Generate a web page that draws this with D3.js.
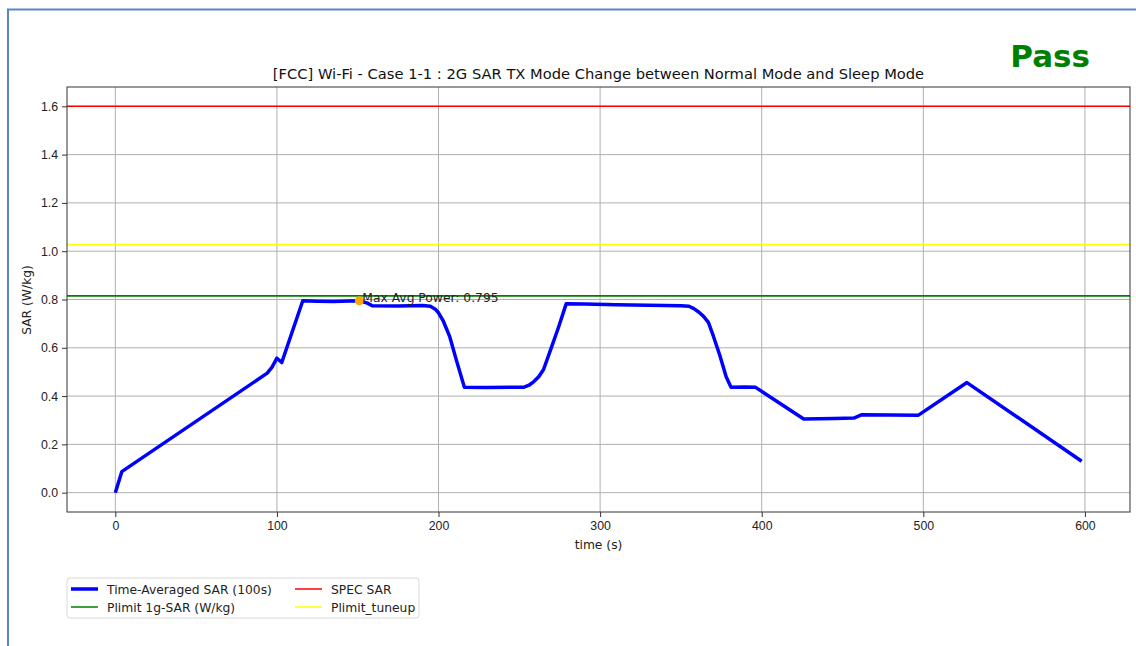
<!DOCTYPE html>
<html>
<head>
<meta charset="utf-8">
<title>SAR TX Mode Change</title>
<script src="https://d3js.org/d3.v7.min.js"></script>
<style>
    body { margin: 0; background: #fff; }
    svg { display: block; font-family: "DejaVu Sans", sans-serif; }
    .tick text { font-size: 12.3px; fill: #222; }
</style>
</head>
<body>
<svg id="chart" width="1136" height="646"></svg>
<script>
    // time-averaged SAR trace
    var times = [0, 4, 94, 97, 100, 103, 116, 125, 135, 145, 151, 156, 159, 175, 190, 195, 198, 200, 203, 207, 211, 216,
                 230, 245, 253, 256, 259, 262, 265, 269, 274, 279, 290, 310, 330, 350, 355, 358, 361, 364, 367, 370,
                 374, 378, 381, 390, 396, 426, 445, 457, 462, 480, 497, 527, 598];
    var sar = [0, 0.087, 0.495, 0.52, 0.557, 0.539, 0.795, 0.793, 0.792, 0.794, 0.795, 0.785, 0.774, 0.773, 0.775, 0.772,
               0.76, 0.745, 0.71, 0.645, 0.55, 0.437, 0.436, 0.437, 0.437, 0.445, 0.46, 0.48, 0.51, 0.585, 0.68, 0.782,
               0.781, 0.778, 0.776, 0.774, 0.772, 0.762, 0.748, 0.73, 0.705, 0.65, 0.57, 0.48, 0.437, 0.438, 0.437,
               0.305, 0.307, 0.309, 0.323, 0.322, 0.321, 0.456, 0.13];

    var specSar = 1.6;
    var plimitTuneup = 1.028;
    var plimit1g = 0.815;
    var maxPoint = { t: 151, v: 0.795 };

    var xTicks = [0, 100, 200, 300, 400, 500, 600];
    var yTicks = [0.0, 0.2, 0.4, 0.6, 0.8, 1.0, 1.2, 1.4, 1.6];

    var legendItems = [
        { label: "Time-Averaged SAR (100s)", color: "#0000ff", width: 3.5 },
        { label: "Plimit 1g-SAR (W/kg)", color: "green", width: 1.5 },
        { label: "SPEC SAR", color: "red", width: 1.5 },
        { label: "Plimit_tuneup", color: "yellow", width: 1.5 }
    ];

    var svg = d3.select("#chart");
    var pLeft = 67, pRight = 1130, pTop = 87, pBottom = 512;

    // report frame
    svg.append("path")
       .attr("d", "M8,646 L8,9.5 L1136,9.5")
       .attr("fill", "none")
       .attr("stroke", "#5b86c2")
       .attr("stroke-width", 2);

    var x = d3.scaleLinear().domain([-29.9, 627.9]).range([pLeft, pRight]);
    var y = d3.scaleLinear().domain([-0.08, 1.68]).range([pBottom, pTop]);

    // grid
    var grid = svg.append("g");
    grid.selectAll(".gx").data(xTicks).enter().append("line")
        .attr("x1", function(d) { return x(d); }).attr("x2", function(d) { return x(d); })
        .attr("y1", pTop).attr("y2", pBottom)
        .attr("stroke", "#b0b0b0").attr("stroke-width", 1);
    grid.selectAll(".gy").data(yTicks).enter().append("line")
        .attr("y1", function(d) { return y(d); }).attr("y2", function(d) { return y(d); })
        .attr("x1", pLeft).attr("x2", pRight)
        .attr("stroke", "#b0b0b0").attr("stroke-width", 1);

    // limit lines
    [[specSar, "red"], [plimitTuneup, "yellow"], [plimit1g, "green"]].forEach(function(l) {
        svg.append("line")
           .attr("x1", pLeft).attr("x2", pRight)
           .attr("y1", y(l[0])).attr("y2", y(l[0]))
           .attr("stroke", l[1]).attr("stroke-width", 1.6);
    });

    // SAR trace
    var line = d3.line()
        .x(function(d, i) { return x(times[i]); })
        .y(function(d) { return y(d); });
    svg.append("path")
       .datum(sar)
       .attr("d", line)
       .attr("fill", "none")
       .attr("stroke", "#0000ff")
       .attr("stroke-width", 3.5)
       .attr("stroke-linejoin", "round");

    // max point
    svg.append("circle")
       .attr("cx", x(maxPoint.t)).attr("cy", y(maxPoint.v))
       .attr("r", 4.5).attr("fill", "orange");
    svg.append("text")
       .attr("x", x(maxPoint.t) + 3).attr("y", y(maxPoint.v) + 1)
       .attr("font-size", 12.3).attr("fill", "#222")
       .text("Max Avg Power: " + maxPoint.v);

    // axes
    svg.append("g")
       .attr("transform", "translate(0," + pBottom + ")")
       .call(d3.axisBottom(x).tickValues(xTicks).tickSize(5).tickPadding(4).tickFormat(d3.format("d")))
       .call(function(g) { g.select(".domain").remove(); });
    svg.append("g")
       .attr("transform", "translate(" + pLeft + ",0)")
       .call(d3.axisLeft(y).tickValues(yTicks).tickSize(5).tickPadding(4).tickFormat(d3.format(".1f")))
       .call(function(g) { g.select(".domain").remove(); });
    svg.selectAll(".tick line").attr("stroke", "#333");

    svg.append("rect")
       .attr("x", pLeft).attr("y", pTop)
       .attr("width", pRight - pLeft).attr("height", pBottom - pTop)
       .attr("fill", "none").attr("stroke", "#333").attr("stroke-width", 1);

    // titles
    svg.append("text")
       .attr("x", (pLeft + pRight) / 2).attr("y", 79)
       .attr("text-anchor", "middle").attr("font-size", 14.7).attr("fill", "#111")
       .text("[FCC] Wi-Fi - Case 1-1 : 2G SAR TX Mode Change between Normal Mode and Sleep Mode");
    svg.append("text")
       .attr("x", (pLeft + pRight) / 2).attr("y", 549)
       .attr("text-anchor", "middle").attr("font-size", 12.3).attr("fill", "#222")
       .text("time (s)");
    svg.append("text")
       .attr("transform", "translate(31,300) rotate(-90)")
       .attr("text-anchor", "middle").attr("font-size", 12.3).attr("fill", "#222")
       .text("SAR (W/kg)");

    svg.append("text")
       .attr("x", 1090).attr("y", 67)
       .attr("text-anchor", "end")
       .attr("font-size", 31).attr("font-weight", "bold").attr("fill", "green")
       .text("Pass");

    // legend
    var lg = svg.append("g").attr("transform", "translate(67,578)");
    lg.append("rect")
      .attr("width", 352).attr("height", 40).attr("rx", 3)
      .attr("fill", "#fff").attr("stroke", "#d8d8d8");
    var item = lg.selectAll(".item").data(legendItems).enter().append("g")
      .attr("transform", function(d, i) {
          return "translate(" + (i < 2 ? 4 : 228) + "," + (i % 2 === 0 ? 11 : 29) + ")";
      });
    item.append("line")
        .attr("x1", 0).attr("x2", 27)
        .attr("stroke", function(d) { return d.color; })
        .attr("stroke-width", function(d) { return d.width; });
    item.append("text")
        .attr("x", 36).attr("y", 4.5)
        .attr("font-size", 12.3).attr("fill", "#222")
        .text(function(d) { return d.label; });
</script>
</body>
</html>
